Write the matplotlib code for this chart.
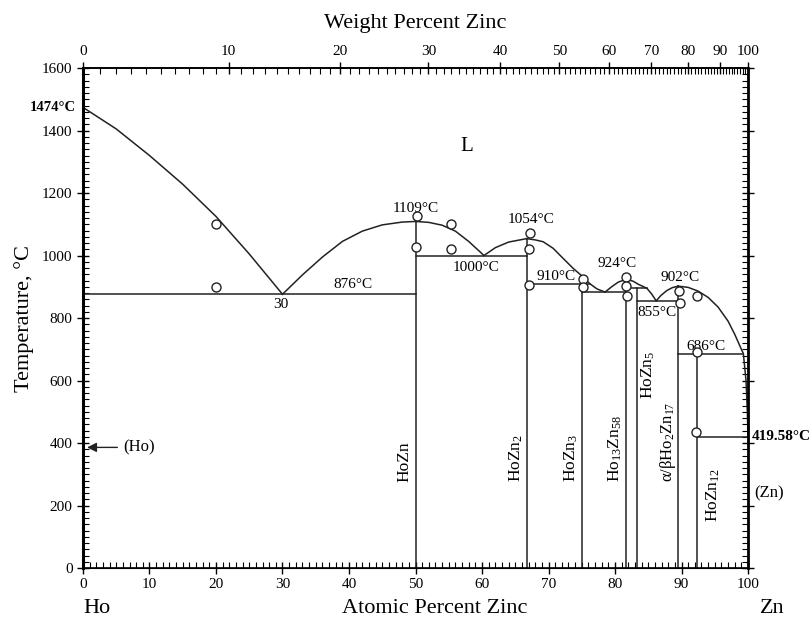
import numpy as np
import matplotlib.pyplot as plt

plt.rcParams["font.family"] = ["Liberation Serif", "DejaVu Serif"]
plt.rcParams["font.size"] = 11
plt.rcParams["mathtext.fontset"] = "custom"
plt.rcParams["mathtext.rm"] = "Liberation Serif"
plt.rcParams["mathtext.it"] = "Liberation Serif:italic"

# liquidus segments (at.% Zn, temperature in C)
liq_x = [
    [0, 5, 10, 15, 20, 25, 30],
    [30, 33, 36, 39, 42, 45, 48, 50],
    [50, 52, 54, 56, 58, 60.3],
    [60.3, 62, 64, 66.7],
    [66.7, 68, 69.2, 70.7, 72, 73.7, 75, 76.2, 77.3, 78.5],
    [78.5, 79.5, 80.5, 81.7],
    [81.7, 82.7, 83.5, 84.8, 85.5, 86.2],
    [86.2, 86.9, 87.8, 88.6, 89.5],
    [89.5, 91, 92.5, 94, 95.5, 97, 98, 99, 99.3, 99.7, 99.9, 100],
]
liq_t = [
    [1474, 1405, 1320, 1228, 1125, 1005, 876],
    [876, 938, 995, 1045, 1078, 1098, 1107, 1109],
    [1109, 1106, 1097, 1078, 1045, 1000],
    [1000, 1025, 1043, 1054],
    [1054, 1050, 1044, 1023, 995, 959, 935, 910, 893, 883],
    [883, 900, 915, 924],
    [924, 918, 908, 895, 877, 855],
    [855, 872, 888, 897, 902],
    [902, 898, 886, 866, 835, 790, 748, 700, 686, 600, 500, 419.58],
]

# invariant reactions: temperature, x start, x end
iso_t = [876, 1000, 910, 882, 895, 855, 686, 419.58]
iso_x0 = [0, 50, 66.7, 75, 81.7, 83.3, 89.5, 92.3]
iso_x1 = [50, 66.7, 76.2, 81.7, 84.8, 89.5, 99.3, 100]

# compounds: composition and top of the line
comp_x = [50, 66.7, 75, 81.7, 83.3, 89.5, 92.3]
comp_t = [1109, 1054, 910, 924, 895, 902, 686]

# experimental points
pts_x = [20, 20, 50.3, 50, 55.3, 55.3, 67.2, 67, 67, 75.2, 75.2,
         81.7, 81.7, 81.8, 89.6, 89.7, 92.3, 92.4, 92.2]
pts_t = [1100, 900, 1126, 1026, 1101, 1020, 1073, 1020, 907, 925, 898,
         930, 902, 870, 886, 847, 870, 690, 436]

wt_major = [0, 10, 20, 30, 40, 50, 60, 70, 80, 90, 100]
M_HO, M_ZN = 164.93, 65.38


def wt_to_at(w):
    w = np.asarray(w, dtype=float)
    nz = w / M_ZN
    nh = (100 - w) / M_HO
    return 100 * nz / (nz + nh)


fig = plt.figure(figsize=(8.12, 6.21), dpi=100, facecolor="w")
ax = fig.add_axes([0.1022, 0.0853, 0.8190, 0.8052])
lc = "#222222"

for xs, ts in zip(liq_x, liq_t):
    ax.plot(xs, ts, color=lc, lw=1.1)
for t, a, b in zip(iso_t, iso_x0, iso_x1):
    ax.plot([a, b], [t, t], color=lc, lw=1.1)
for x, t in zip(comp_x, comp_t):
    ax.plot([x, x], [0, t], color=lc, lw=1.1)
ax.plot(pts_x, pts_t, "o", ms=6.5, mfc="white", mec=lc, mew=1.0, zorder=5)

ax.set_xlim(0, 100)
ax.set_ylim(0, 1600)
ax.set_xticks(np.arange(0, 101, 10))
ax.set_xticks(np.arange(0, 101, 1), minor=True)
ax.set_yticks(np.arange(0, 1601, 200))
ax.set_yticks(np.arange(0, 1601, 20), minor=True)
ax.tick_params(which="major", direction="inout", length=8, width=1, labelsize=11)
ax.tick_params(which="minor", direction="in", length=4, width=0.8)
ax.tick_params(axis="y", which="both", right=True)
ax.tick_params(axis="y", which="both", labelright=False)
for s in ax.spines.values():
    s.set_linewidth(1.2)
ax.spines["left"].set_linewidth(2.2)
ax.spines["right"].set_linewidth(2)

ax.set_ylabel("Temperature, °C", fontsize=16, labelpad=6)
ax.set_xlabel("Atomic Percent Zinc", fontsize=16, va="center")
ax.xaxis.set_label_coords(0.529, -0.08)
ax.text(0, -0.08, "Ho", transform=ax.transAxes, fontsize=16, va="center", ha="left")
ax.text(1.036, -0.08, "Zn", transform=ax.transAxes, fontsize=16, va="center", ha="center")

top = ax.twiny()
top.set_xlim(0, 100)
top.set_xticks(wt_to_at(wt_major))
top.set_xticklabels([str(w) for w in wt_major])
top.set_xticks(wt_to_at(np.arange(0, 101, 1)), minor=True)
top.tick_params(which="major", direction="inout", length=8, width=1, labelsize=11)
top.tick_params(which="minor", direction="in", length=4, width=0.8)
top.set_xlabel("Weight Percent Zinc", fontsize=16, labelpad=12)
top.spines["top"].set_linewidth(1.2)

# annotations
ax.text(-1, 1474, "1474°C", ha="right", va="center", fontsize=10.5, fontweight="bold")
ax.text(100.5, 422, "419.58°C", ha="left", va="center", fontsize=11, fontweight="bold")
ax.text(101, 240, "(Zn)", ha="left", va="center", fontsize=12)
ax.annotate("(Ho)", xy=(0.2, 386), xytext=(6, 386), ha="left", va="center", fontsize=12,
            arrowprops=dict(arrowstyle="-|>", color=lc, lw=1.0, mutation_scale=14))
ax.text(57.7, 1350, "L", ha="center", va="center", fontsize=15)
ax.text(40.6, 906, "876°C", ha="center", va="center", fontsize=11)
ax.text(29.8, 842, "30", ha="center", va="center", fontsize=11)
ax.text(50, 1150, "1109°C", ha="center", va="center", fontsize=11)
ax.text(67.4, 1114, "1054°C", ha="center", va="center", fontsize=11)
ax.text(59.1, 963, "1000°C", ha="center", va="center", fontsize=11)
ax.text(71.1, 934, "910°C", ha="center", va="center", fontsize=11)
ax.text(80.3, 973, "924°C", ha="center", va="center", fontsize=11)
ax.text(89.8, 931, "902°C", ha="center", va="center", fontsize=11)
ax.text(86.3, 819, "855°C", ha="center", va="center", fontsize=11)
ax.text(93.6, 710, "686°C", ha="center", va="center", fontsize=11)

# phase labels, most of them start from the same height
base_t = 275
ax.text(48.4, base_t, "HoZn", rotation=90, ha="center", va="bottom", fontsize=12.5)
ax.text(65.2, base_t, r"HoZn$_2$", rotation=90, ha="center", va="bottom", fontsize=12.5)
ax.text(73.5, base_t, r"HoZn$_3$", rotation=90, ha="center", va="bottom", fontsize=12.5)
ax.text(80.0, base_t, r"Ho$_{13}$Zn$_{58}$", rotation=90, ha="center", va="bottom", fontsize=12.5)
ax.text(88.0, base_t, r"α/βHo$_2$Zn$_{17}$", rotation=90, ha="center", va="bottom", fontsize=12)
ax.text(85.0, 618, r"HoZn$_5$", rotation=90, ha="center", va="center", fontsize=12.5)
ax.text(94.8, 234, r"HoZn$_{12}$", rotation=90, ha="center", va="center", fontsize=12.5)

plt.savefig("out.png", dpi=100)
